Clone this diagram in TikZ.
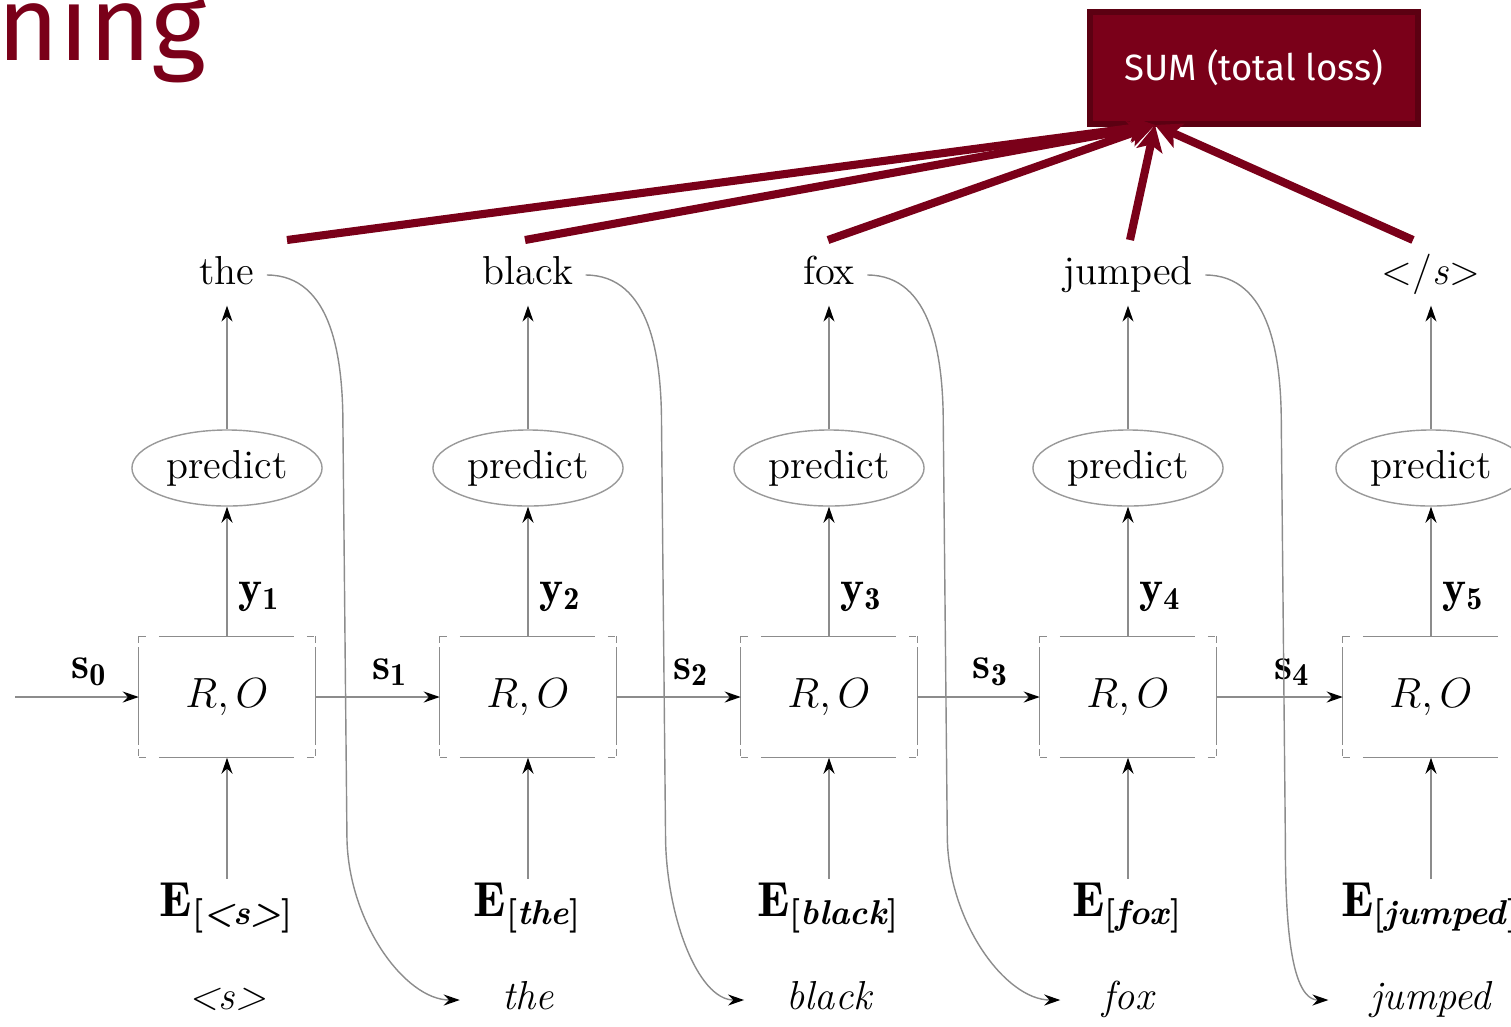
\documentclass[tikz,border=0pt]{standalone}
\usepackage{fontspec}
\usepackage{amsmath}
\newfontfamily\slidefont{Fira Sans}
\usetikzlibrary{shapes, arrows.meta, positioning, calc}
\definecolor{slidered}{RGB}{122,0,25}
\definecolor{slidedark}{RGB}{92,0,18}

\begin{document}
\begin{tikzpicture}[
        x=0.01cm, y=0.01cm,
        word/.style={font=\fontsize{11.5}{13}\selectfont, text height=1.8ex, text depth=0.6ex},
        inword/.style={word, font=\fontsize{11.5}{13}\selectfont\itshape},
        pred/.style={ellipse, draw=black!40, minimum width=1.9cm, minimum height=0.76cm, inner sep=0pt, font=\fontsize{11.5}{13}\selectfont},
        rnn/.style={rectangle, minimum width=1.75cm, minimum height=1.2cm, inner sep=0pt, font=\fontsize{12}{14}\selectfont},
        hside/.style={draw=black!45, dash pattern=on 0.07cm off 0.13cm on 1.35cm off 0.13cm on 0.07cm},
        vside/.style={draw=black!45, dash pattern=on 0.07cm off 0.04cm on 0.98cm off 0.04cm on 0.07cm},
        emb/.style={font=\fontsize{14}{16}\selectfont, inner sep=1pt},
        flow/.style={draw=black!45, -{Stealth[color=black, length=0.16cm, width=0.11cm]}},
        lbl/.style={font=\fontsize{13}{15}\selectfont, inner sep=3pt},
        loss/.style={draw=slidered, line width=2.3pt, -{Stealth[color=slidered, length=0.26cm, width=0.26cm, inset=0.06cm]}},
        sum/.style={rectangle, fill=slidered, draw=slidedark, line width=1.5pt, minimum width=3.28cm, minimum height=1.12cm, text=white, font=\slidefont\fontsize{10.4}{12}\selectfont}
    ]
        \useasboundingbox (0,0) rectangle (1511,-1026);
        \node[anchor=base west, inner sep=0pt, text=slidered, font=\slidefont\fontsize{30}{30}\selectfont] (title) at (-3,-60) {ning};
        \node[sum] (sum) at (1254,-68) {SUM (total loss)};
        \coordinate (hub) at (1155,-125);
        % one column per time step
        \foreach \i/\x/\top/\inp in {1/227/the/{<s>}, 2/528/black/the, 3/829/fox/black, 4/1128/jumped/fox, 5/1431/{</\textit{s}>}/jumped} {
            \node[word] (out\i) at (\x,-275) {\top};
            \node[pred] (pred\i) at (\x,-468) {predict};
            \node[rnn] (rnn\i) at (\x,-697) {$R, O$};
            \node[emb] (emb\i) at (\x,-908) {$\mathbf{E}_{\textbf{[\textit{\inp}]}}$};
            \node[inword] (in\i) at (\x,-1000) {\inp};
            \draw[hside] (rnn\i.north west) -- (rnn\i.north east) (rnn\i.south west) -- (rnn\i.south east);
            \draw[vside] (rnn\i.north west) -- (rnn\i.south west) (rnn\i.north east) -- (rnn\i.south east);
            \draw[flow] (emb\i) -- (rnn\i);
            \draw[flow] (rnn\i) -- node[pos=0.3, right, lbl] {$\mathbf{y}_{\mathbf{\i}}$} (pred\i);
            \draw[flow] (pred\i) -- (out\i);
        }
        % recurrent state
        \coordinate (s0) at (15,-697);
        \draw[flow] (s0) -- node[pos=0.6, above, lbl] {$\mathbf{s}_{\mathbf{0}}$} (rnn1);
        \foreach \i/\j in {1/2, 2/3, 3/4, 4/5} {
            \draw[flow] (rnn\i) -- node[pos=0.6, above, lbl] {$\mathbf{s}_{\mathbf{\i}}$} (rnn\j);
            \draw[flow, shorten >=0.3cm] (out\i.east) to[out=0, in=90] ++(76,-150) -- ++(4,-410) to[out=-90, in=180] (in\j.west);
        }
        % losses into the sum
        \foreach \i/\x in {1/287, 2/525, 3/828, 4/1130, 5/1413} {
            \coordinate (loss\i) at (\x,-240);
            \draw[loss] (loss\i) -- (hub);
        }
\end{tikzpicture}
\end{document}
